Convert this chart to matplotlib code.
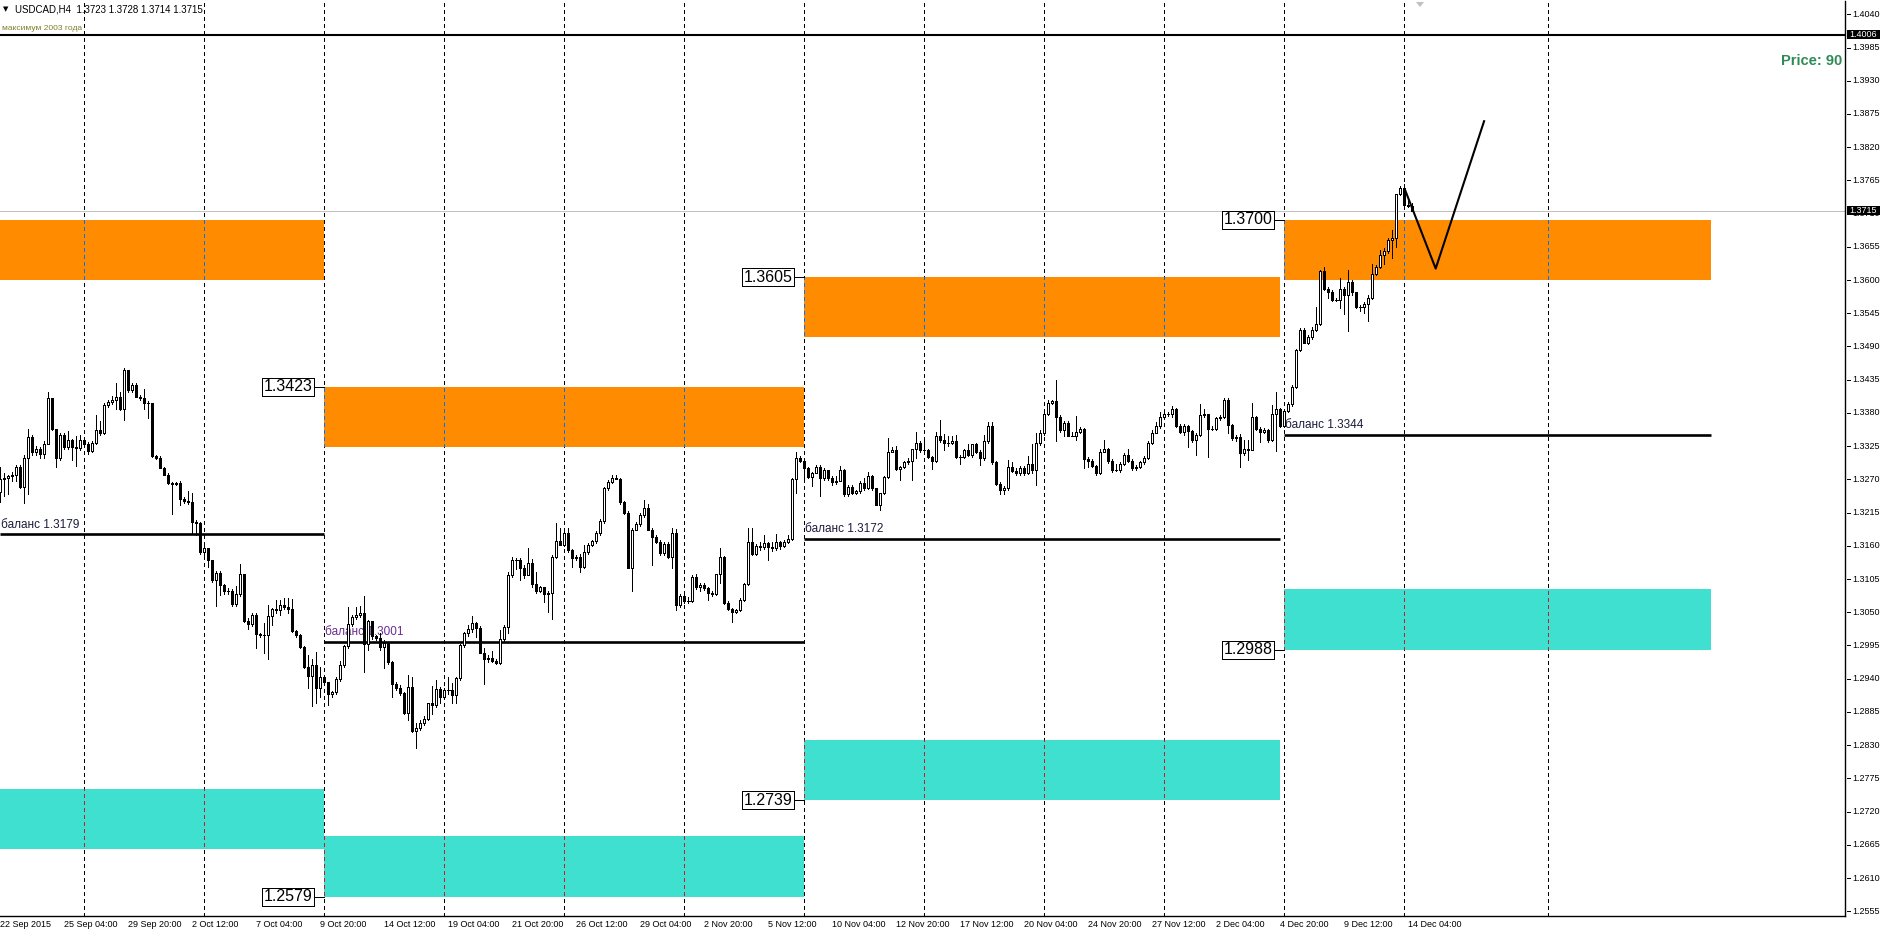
import matplotlib
matplotlib.use('Agg')
import matplotlib.pyplot as plt
from matplotlib.patches import Rectangle, Polygon
from matplotlib.collections import LineCollection, PatchCollection
from matplotlib.transforms import Affine2D, blended_transform_factory
from matplotlib import font_manager

plt.rcParams['lines.scale_dashes'] = False

# ---------------- data ----------------
first_open = 1.3249
closes = [
    1.3271, 1.3273, 1.3276, 1.3277, 1.3291, 1.3258, 1.3306, 1.3340, 1.3316, 1.3321,
    1.3312, 1.3329, 1.3404, 1.3353, 1.3305, 1.3343, 1.3324, 1.3335, 1.3324, 1.3322,
    1.3335, 1.3329, 1.3317, 1.3331, 1.3352, 1.3346, 1.3393, 1.3398, 1.3401, 1.3407,
    1.3387, 1.3451, 1.3418, 1.3426, 1.3407, 1.3405, 1.3397, 1.3396, 1.3308, 1.3305,
    1.3289, 1.3278, 1.3264, 1.3262, 1.3264, 1.3237, 1.3234, 1.3233, 1.3200, 1.3198,
    1.3149, 1.3156, 1.3137, 1.3103, 1.3115, 1.3095, 1.3085, 1.3086, 1.3063, 1.3081,
    1.3114, 1.3036, 1.3031, 1.3046, 1.3014, 1.3013, 1.3012, 1.3044, 1.3055, 1.3053,
    1.3062, 1.3058, 1.3056, 1.3019, 1.3012, 1.2993, 1.2960, 1.2944, 1.2962, 1.2925,
    1.2942, 1.2934, 1.2915, 1.2918, 1.2940, 1.2962, 1.2994, 1.3031, 1.3042, 1.3045,
    1.3048, 1.2998, 1.3035, 1.3010, 1.3007, 1.2993, 1.2999, 1.2967, 1.2932, 1.2924,
    1.2916, 1.2884, 1.2926, 1.2853, 1.2859, 1.2866, 1.2874, 1.2899, 1.2897, 1.2923,
    1.2909, 1.2922, 1.2922, 1.2913, 1.2941, 1.2995, 1.3015, 1.3022, 1.3032, 1.3024,
    1.2982, 1.2972, 1.2975, 1.2970, 1.2966, 1.3005, 1.3026, 1.3112, 1.3136, 1.3136,
    1.3123, 1.3112, 1.3131, 1.3096, 1.3086, 1.3091, 1.3081, 1.3082, 1.3142, 1.3168,
    1.3162, 1.3182, 1.3153, 1.3139, 1.3142, 1.3125, 1.3149, 1.3161, 1.3168, 1.3181,
    1.3201, 1.3255, 1.3266, 1.3272, 1.3271, 1.3233, 1.3214, 1.3123, 1.3187, 1.3196,
    1.3211, 1.3222, 1.3187, 1.3175, 1.3167, 1.3148, 1.3163, 1.3142, 1.3182, 1.3062,
    1.3077, 1.3069, 1.3069, 1.3109, 1.3091, 1.3095, 1.3090, 1.3082, 1.3080, 1.3113,
    1.3142, 1.3066, 1.3056, 1.3051, 1.3054, 1.3071, 1.3096, 1.3167, 1.3147, 1.3160,
    1.3158, 1.3165, 1.3158, 1.3156, 1.3166, 1.3159, 1.3167, 1.3172, 1.3270, 1.3306,
    1.3301, 1.3288, 1.3274, 1.3281, 1.3291, 1.3272, 1.3285, 1.3272, 1.3266, 1.3268,
    1.3285, 1.3246, 1.3258, 1.3248, 1.3250, 1.3264, 1.3255, 1.3276, 1.3255, 1.3227,
    1.3247, 1.3274, 1.3316, 1.3319, 1.3287, 1.3290, 1.3298, 1.3301, 1.3320, 1.3331,
    1.3319, 1.3318, 1.3307, 1.3301, 1.3341, 1.3336, 1.3330, 1.3331, 1.3334, 1.3307,
    1.3307, 1.3319, 1.3310, 1.3328, 1.3316, 1.3305, 1.3333, 1.3358, 1.3299, 1.3262,
    1.3253, 1.3255, 1.3291, 1.3284, 1.3280, 1.3289, 1.3281, 1.3296, 1.3285, 1.3330,
    1.3346, 1.3379, 1.3396, 1.3400, 1.3374, 1.3352, 1.3363, 1.3342, 1.3342, 1.3349,
    1.3353, 1.3303, 1.3301, 1.3292, 1.3281, 1.3316, 1.3320, 1.3300, 1.3285, 1.3286,
    1.3296, 1.3310, 1.3301, 1.3288, 1.3291, 1.3298, 1.3305, 1.3330, 1.3347, 1.3358,
    1.3374, 1.3379, 1.3378, 1.3387, 1.3358, 1.3349, 1.3358, 1.3350, 1.3336, 1.3343,
    1.3376, 1.3378, 1.3354, 1.3353, 1.3371, 1.3373, 1.3402, 1.3360, 1.3339, 1.3340,
    1.3313, 1.3321, 1.3319, 1.3374, 1.3353, 1.3349, 1.3352, 1.3335, 1.3379, 1.3386,
    1.3358, 1.3384, 1.3395, 1.3423, 1.3484, 1.3518, 1.3496, 1.3506, 1.3517, 1.3527,
    1.3615, 1.3586, 1.3580, 1.3567, 1.3567, 1.3586, 1.3575, 1.3597, 1.3580, 1.3556,
    1.3556, 1.3561, 1.3571, 1.3610, 1.3622, 1.3641, 1.3648, 1.3666, 1.3669, 1.3742,
    1.3752, 1.3724, 1.3723, 1.3715,
]
# upper / lower wick lengths beyond the body, in pips
upper_wick = [
    19, 7, 2, 5, 3, 3, 4, 14, 3, 5, 3, 5, 11, 1, 0, 3, 3, 15, 2, 18,
    8, 5, 3, 2, 25, 15, 3, 3, 7, 22, 7, 3, 0, 3, 3, 3, 15, 2, 0, 2,
    4, 2, 2, 2, 2, 3, 3, 16, 15, 3, 2, 3, 1, 0, 4, 4, 1, 4, 2, 12,
    16, 0, 4, 2, 2, 1, 19, 18, 2, 16, 8, 11, 15, 16, 2, 2, 1, 19, 11, 22,
    18, 3, 1, 1, 3, 8, 2, 27, 3, 14, 13, 29, 2, 0, 3, 8, 5, 0, 2, 3,
    5, 2, 20, 17, 7, 5, 4, 1, 29, 15, 3, 3, 20, 11, 2, 3, 3, 7, 11, 2,
    3, 9, 4, 11, 2, 15, 3, 5, 5, 3, 3, 5, 26, 7, 21, 3, 1, 4, 3, 29,
    21, 2, 7, 1, 3, 4, 12, 3, 1, 3, 3, 3, 3, 5, 5, 1, 1, 4, 2, 4,
    3, 14, 7, 2, 3, 3, 3, 3, 7, 6, 4, 3, 7, 3, 5, 3, 3, 1, 4, 1,
    15, 1, 2, 1, 1, 2, 3, 22, 22, 3, 6, 13, 1, 8, 14, 2, 3, 6, 2, 9,
    3, 1, 2, 2, 3, 3, 3, 1, 3, 7, 7, 2, 3, 3, 3, 3, 8, 7, 2, 1,
    1, 2, 22, 5, 7, 2, 3, 4, 1, 18, 3, 15, 2, 2, 8, 27, 9, 10, 8, 9,
    4, 2, 10, 1, 2, 2, 11, 7, 7, 1, 4, 4, 11, 8, 4, 3, 3, 12, 33, 16,
    5, 5, 5, 2, 34, 2, 3, 4, 7, 26, 3, 2, 4, 2, 1, 4, 15, 2, 4, 9,
    3, 3, 11, 2, 2, 2, 4, 3, 4, 7, 8, 5, 3, 5, 1, 3, 3, 2, 2, 3,
    19, 8, 0, 4, 3, 3, 2, 2, 2, 4, 5, 14, 14, 22, 1, 4, 3, 2, 14, 29,
    2, 2, 3, 3, 2, 2, 2, 3, 6, 29, 2, 6, 2, 3, 3, 18, 3, 20, 3, 1,
    3, 3, 4, 17, 3, 8, 5, 3, 14, 1, 4, 7, 14, 5,
]
lower_wick = [
    16, 28, 28, 8, 10, 3, 27, 60, 5, 5, 7, 7, 1, 1, 15, 3, 3, 3, 22, 30,
    3, 5, 5, 2, 3, 3, 1, 3, 3, 14, 2, 18, 3, 3, 1, 3, 11, 25, 1, 2,
    1, 1, 2, 50, 2, 9, 3, 3, 20, 20, 2, 7, 12, 3, 42, 17, 5, 4, 3, 3,
    4, 2, 8, 4, 24, 4, 30, 40, 15, 5, 7, 3, 8, 1, 3, 3, 3, 19, 50, 26,
    15, 2, 19, 5, 3, 3, 2, 4, 3, 3, 3, 47, 10, 5, 3, 5, 35, 3, 23, 3,
    3, 3, 12, 1, 28, 4, 2, 3, 15, 4, 9, 3, 7, 14, 14, 3, 3, 5, 4, 15,
    0, 40, 4, 2, 2, 2, 3, 11, 3, 14, 19, 5, 1, 4, 4, 3, 14, 31, 44, 3,
    1, 3, 4, 14, 3, 8, 2, 3, 1, 3, 3, 3, 3, 2, 1, 3, 1, 0, 37, 1,
    3, 3, 1, 47, 3, 3, 3, 3, 19, 8, 3, 3, 4, 2, 2, 5, 3, 12, 3, 1,
    15, 2, 2, 17, 2, 2, 3, 1, 3, 2, 5, 3, 21, 5, 3, 4, 1, 3, 3, 22,
    3, 17, 2, 15, 1, 30, 3, 3, 5, 4, 1, 3, 3, 3, 3, 3, 3, 1, 2, 0,
    8, 2, 1, 1, 1, 18, 2, 3, 32, 14, 3, 2, 2, 14, 2, 4, 11, 4, 3, 1,
    11, 2, 2, 3, 2, 11, 3, 3, 3, 2, 8, 8, 3, 2, 3, 3, 3, 2, 5, 25,
    3, 2, 3, 1, 41, 3, 10, 1, 1, 6, 3, 15, 10, 2, 4, 2, 1, 3, 3, 1,
    3, 3, 2, 3, 2, 2, 3, 2, 1, 1, 3, 3, 3, 5, 1, 3, 5, 26, 4, 25,
    2, 3, 47, 1, 2, 3, 1, 14, 3, 6, 22, 3, 17, 1, 1, 17, 3, 3, 1, 62,
    1, 2, 3, 3, 2, 2, 1, 2, 3, 2, 2, 2, 10, 2, 1, 14, 31, 60, 4, 3,
    8, 11, 28, 2, 2, 2, 15, 3, 30, 15, 2, 3, 2, 1,
]

# zones
zone_start = [-0.1, 80.9, 200.9, 320.95]
zone_end = [80.9, 200.9, 319.8, 427.7]
orange_low = [1.3600, 1.3323, 1.3505, 1.3600]
orange_high = [1.3700, 1.3423, 1.3605, 1.3700]
cyan_low = [1.2658, 1.2579, 1.2739, 1.2988]
cyan_high = [1.2758, 1.2679, 1.2839, 1.3088]
balance = [1.3179, 1.3001, 1.3172, 1.3344]
balance_text = ["баланс 1.3179", "баланс 1.3001", "баланс 1.3172", "баланс 1.3344"]
balance_color = ['#1c1c3c', '#6a2c91', '#1c1c3c', '#1c1c3c']

zigzag_x = [351.1, 358.8, 370.9]
zigzag_y = [1.3750, 1.3619, 1.3863]

max_2003 = 1.4006
last_price = 1.3715
header = "USDCAD,H4  1.3723 1.3728 1.3714 1.3715"

separators = [21, 51, 81, 111, 141, 171, 201, 231, 261, 291, 321, 351, 387]
time_labels = ["22 Sep 2015", "25 Sep 04:00", "29 Sep 20:00", "2 Oct 12:00", "7 Oct 04:00",
               "9 Oct 20:00", "14 Oct 12:00", "19 Oct 04:00", "21 Oct 20:00", "26 Oct 12:00",
               "29 Oct 04:00", "2 Nov 20:00", "5 Nov 12:00", "10 Nov 04:00", "12 Nov 20:00",
               "17 Nov 12:00", "20 Nov 04:00", "24 Nov 20:00", "27 Nov 12:00", "2 Dec 04:00",
               "4 Dec 20:00", "9 Dec 12:00", "14 Dec 04:00"]
price_ticks = [1.2555 + 0.0055 * k for k in range(28)]

# ---------------- layout ----------------
W, H = 1887, 935
DPI = 100
fig = plt.figure(figsize=(W / DPI, H / DPI), dpi=DPI)
fig.patch.set_facecolor('white')

L, R, T, B = 0.0, 1845.3, 1.0, 915.7
ax = fig.add_axes([L / W, 1 - B / H, (R - L) / W, (B - T) / H])
X0, X1 = -0.1, 461.2
Y0, Y1 = 1.25476, 1.40620
ax.set_xlim(X0, X1)
ax.set_ylim(Y0, Y1)
ax.set_xticks([]); ax.set_yticks([])
for s in ['top', 'left']:
    ax.spines[s].set_visible(False)
for s in ['right', 'bottom']:
    ax.spines[s].set_linewidth(1.0)
    ax.spines[s].set_color('black')

PXX = (R - L) / (X1 - X0)         # px per bar
PXY = (B - T) / (Y1 - Y0)         # px per price unit
PIX = Affine2D().scale(1, -1).translate(0, H)   # pixel coords, origin top-left
tx_pix_y = blended_transform_factory(ax.transData, PIX)
tx_x_pix = blended_transform_factory(PIX, ax.transData)


def pick_font(names):
    for n in names:
        try:
            font_manager.findfont(n, fallback_to_default=False)
            return n
        except Exception:
            continue
    return 'DejaVu Sans'


F_SMALL = pick_font(['Liberation Sans', 'Arial'])

LW1 = 0.72  # 1 px
DASH = (0, (2.16, 2.16))

# ---------------- zones ----------------
zone_patches = []
for i in range(len(zone_start)):
    w = zone_end[i] - zone_start[i]
    ro = Rectangle((zone_start[i], orange_low[i]), w, orange_high[i] - orange_low[i],
                   facecolor='#FF8C00', edgecolor='none', zorder=1, antialiased=False)
    rc = Rectangle((zone_start[i], cyan_low[i]), w, cyan_high[i] - cyan_low[i],
                   facecolor='#40E0D0', edgecolor='none', zorder=1, antialiased=False)
    ax.add_patch(ro); ax.add_patch(rc)
    zone_patches.append((ro, '#0073FF'))
    zone_patches.append((rc, '#BF1F2F'))

# ---------------- separators ----------------
for sx in separators:
    ax.axvline(sx, color='black', lw=LW1, ls=DASH, zorder=2, antialiased=False)
    for patch, inv in zone_patches:
        x0 = patch.get_x(); x1 = x0 + patch.get_width()
        if x0 <= sx <= x1:
            ln = ax.axvline(sx, color=inv, lw=LW1, ls=DASH, zorder=2.5, antialiased=False)
            ln.set_clip_path(patch)

# horizontal lines
ax.axhline(last_price, color='#C0C0C0', lw=LW1, zorder=2)
ax.axhline(max_2003, color='black', lw=1.5, zorder=3)

# balance lines + labels
for i in range(len(balance)):
    ax.plot([zone_start[i], zone_end[i]], [balance[i], balance[i]], color='black',
            lw=1.9, zorder=3, solid_capstyle='butt')
    ax.text(zone_start[i] + 0.3, balance[i] + 9.5 / PXY, balance_text[i], fontsize=8.5,
            family=F_SMALL, color=balance_color[i], ha='left', va='center', zorder=3)

# ---------------- candles ----------------
opens = [first_open] + closes[:-1]
wick_segs, bull, bear, doji = [], [], [], []
for i, (o, c) in enumerate(zip(opens, closes)):
    top = max(o, c); bot = min(o, c)
    hi = top + upper_wick[i] * 0.0001
    lo = bot - lower_wick[i] * 0.0001
    wick_segs.append([(i, lo), (i, hi)])
    if abs(c - o) < 0.00008:
        doji.append([(i - 0.3, c), (i + 0.3, c)])
    elif c > o:
        bull.append(Rectangle((i - 0.25, o), 0.5, c - o))
    else:
        bear.append(Rectangle((i - 0.25, c), 0.5, o - c))
ax.add_collection(LineCollection(wick_segs, colors='black', linewidths=LW1, zorder=4,
                                 antialiaseds=False))
ax.add_collection(LineCollection(doji, colors='black', linewidths=LW1, zorder=4.2,
                                 antialiaseds=False))
ax.add_collection(PatchCollection(bull, facecolor='white', edgecolor='black',
                                  linewidth=LW1, zorder=4.1, antialiased=False))
ax.add_collection(PatchCollection(bear, facecolor='black', edgecolor='black',
                                  linewidth=LW1, zorder=4.1, antialiased=False))

# zigzag forecast
ax.plot(zigzag_x, zigzag_y, color='black', lw=1.5, zorder=5)

# ---------------- price label boxes ----------------
def price_box(x_edge, price):
    bw = 52 / PXX; bh = 18 / PXY; gap = 10 / PXX
    xr = x_edge - gap
    ax.add_patch(Rectangle((xr - bw, price - bh / 2), bw, bh, facecolor='white',
                           edgecolor='black', lw=LW1, zorder=6, antialiased=False))
    ax.plot([xr, x_edge], [price, price], color='black', lw=LW1, zorder=6)
    ax.text(xr - bw / 2, price, f"{price:.4f}", fontsize=11.5, family=F_SMALL,
            color='black', ha='center', va='center', zorder=7)

for i in range(1, len(zone_start)):
    price_box(zone_start[i], orange_high[i])
    price_box(zone_start[i], cyan_low[i])

# ---------------- right price axis ----------------
for p in price_ticks:
    ax.plot([1846.5, 1849.5], [p, p], transform=tx_x_pix, color='black', lw=LW1,
            clip_on=False)
    ax.text(1852, p, f"{p:.4f}", transform=tx_x_pix, fontsize=6.5, family=F_SMALL,
            color='black', ha='left', va='center', clip_on=False)

for p in [max_2003, last_price]:
    ax.add_patch(Rectangle((1846.5, p - 4.5 / PXY), 33, 9 / PXY, transform=tx_x_pix,
                           facecolor='black', edgecolor='none', clip_on=False, zorder=8))
    ax.text(1849, p, f"{p:.4f}", transform=tx_x_pix, fontsize=6.5, family=F_SMALL,
            color='white', ha='left', va='center', clip_on=False, zorder=9)

# ---------------- time axis ----------------
for k, lab in enumerate(time_labels):
    ax.text(16 * k, 924.5, lab, transform=tx_pix_y, fontsize=6.5, family=F_SMALL,
            color='black', ha='left', va='center', clip_on=False)
for sx in separators:
    ax.plot([sx, sx], [912.7, 915.7], transform=tx_pix_y, color='black', lw=LW1,
            clip_on=False)

# ---------------- header / misc text ----------------
fig.text(3 / W, 1 - 9 / H, "\u25BC", fontsize=5, family='DejaVu Sans', color='black',
         ha='left', va='center')
fig.text(15 / W, 1 - 9 / H, header, fontsize=7, family=F_SMALL, color='black',
         ha='left', va='center')
fig.text(2 / W, 1 - 28.5 / H, "максимум 2003 года", fontsize=6, family=F_SMALL,
         color='#7f7f2a', ha='left', va='center')
fig.text(1842 / W, 1 - 61 / H, "Price: 90", fontsize=10.5, family=F_SMALL,
         fontweight='bold', color='#2E8B57', ha='right', va='center')

# shift marker
fig.patches.append(Polygon([[1416, 2], [1424, 2], [1420, 7]], closed=True,
                           transform=PIX, facecolor='#C0C0C0', edgecolor='none'))

fig.savefig('out.png', dpi=DPI, facecolor='white')
